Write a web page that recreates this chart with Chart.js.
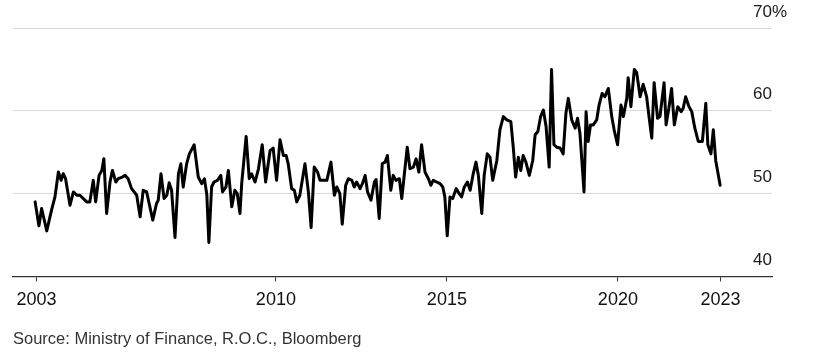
<!DOCTYPE html>
<html>
<head>
<meta charset="utf-8">
<script src="https://cdn.jsdelivr.net/npm/chart.js@4"></script>
<style>
  html, body { margin: 0; padding: 0; background: #ffffff; }
  #wrap { width: 813px; height: 358px; }
</style>
</head>
<body>
<div id="wrap"><canvas id="c" width="813" height="358"></canvas></div>
<script>
// Dates (decimal years) and values (%)
const dates = [
  2002.96,2003.07,2003.15,2003.30,2003.44,2003.54,2003.64,2003.72,2003.78,2003.85,2003.98,
  2004.08,2004.18,2004.27,2004.37,2004.47,2004.56,2004.66,2004.73,2004.83,2004.91,2004.97,
  2005.05,2005.15,2005.22,2005.32,2005.39,2005.51,2005.59,2005.68,2005.78,2005.93,
  2006.03,2006.12,2006.22,2006.40,2006.51,2006.56,2006.64,2006.73,2006.81,2006.88,2006.95,
  2007.05,2007.15,2007.22,2007.29,2007.39,2007.47,2007.61,2007.73,2007.83,2007.91,2007.98,
  2008.04,2008.12,2008.19,2008.29,2008.39,2008.44,2008.54,2008.61,2008.71,2008.80,2008.87,2008.95,
  2009.00,2009.13,2009.22,2009.29,2009.39,2009.49,2009.60,2009.70,2009.83,2009.92,
  2010.02,2010.12,2010.22,2010.30,2010.36,2010.46,2010.54,2010.61,2010.70,2010.85,2010.95,
  2011.03,2011.12,2011.22,2011.29,2011.49,2011.61,2011.71,2011.78,2011.87,2011.94,
  2012.04,2012.12,2012.22,2012.29,2012.36,2012.46,2012.53,2012.61,2012.68,2012.78,2012.88,2012.93,
  2013.02,2013.11,2013.19,2013.26,2013.36,2013.43,2013.51,2013.61,2013.68,2013.84,2013.92,
  2014.02,2014.10,2014.18,2014.26,2014.36,2014.46,2014.53,2014.60,2014.70,2014.80,2014.88,2014.94,
  2015.01,2015.09,2015.17,2015.27,2015.36,2015.43,2015.51,2015.60,2015.68,2015.77,2015.85,2015.92,
  2016.02,2016.09,2016.18,2016.26,2016.34,2016.46,2016.55,2016.65,2016.75,2016.87,2016.94,
  2017.01,2017.09,2017.16,2017.23,2017.31,2017.41,2017.51,2017.58,2017.66,2017.74,2017.82,2017.90,2017.99,
  2018.06,2018.13,2018.21,2018.31,2018.40,2018.48,2018.55,2018.65,2018.75,2018.82,2018.89,
  2019.01,2019.07,2019.13,2019.20,2019.28,2019.38,2019.45,2019.54,2019.62,2019.72,2019.82,2019.89,2019.99,
  2020.09,2020.16,2020.26,2020.30,2020.38,2020.48,2020.55,2020.65,2020.74,2020.84,2020.91,2020.99,
  2021.06,2021.16,2021.23,2021.35,2021.41,2021.49,2021.57,2021.65,2021.75,2021.85,2021.91,2021.98,
  2022.08,2022.16,2022.25,2022.35,2022.47,2022.57,2022.63,2022.72,2022.79,2022.86,2022.99
];
const values = [
  49.0,46.1,48.2,45.5,48.0,49.6,52.6,51.6,52.4,51.8,48.6,
  50.2,49.8,49.8,49.4,49.0,49.0,51.6,49.0,52.2,52.8,54.2,
  47.6,51.4,52.8,51.4,51.8,52.0,52.2,51.8,50.6,49.8,
  47.2,50.4,50.2,46.8,48.8,49.2,52.4,49.4,49.8,51.3,50.4,
  44.7,52.4,53.6,50.8,53.6,54.8,55.9,52.0,51.2,51.8,49.9,
  44.1,50.8,51.4,51.6,52.2,50.2,50.8,52.8,48.4,50.4,50.0,47.6,
  51.2,56.9,51.8,52.4,51.4,53.0,55.9,51.4,55.2,55.5,
  51.6,56.5,54.6,54.6,53.6,50.6,50.4,49.0,49.8,53.6,50.2,
  45.9,53.2,52.6,51.6,51.6,53.8,49.8,50.8,50.0,46.3,
  51.0,51.8,51.6,50.8,51.4,50.6,51.2,52.2,50.2,49.2,51.4,51.7,
  47.0,53.6,53.8,54.6,50.4,52.2,51.6,51.8,49.4,55.6,53.0,
  53.2,54.2,52.6,55.9,52.6,51.8,51.0,51.6,51.4,51.2,50.8,49.6,
  44.9,49.6,49.4,50.6,50.0,49.6,50.8,51.4,50.4,52.4,53.8,52.2,
  47.6,52.2,54.8,54.4,51.6,54.0,57.7,59.3,58.9,58.7,55.6,
  52.0,54.4,52.8,54.6,53.8,52.2,54.0,57.1,57.5,59.3,60.1,58.1,53.2,
  65.0,55.9,55.6,55.5,54.8,59.7,61.5,58.9,57.9,59.1,57.3,
  50.2,59.9,56.3,58.3,58.3,58.9,60.7,62.1,61.7,62.7,59.3,57.7,55.9,
  60.7,59.3,61.5,64.0,60.5,65.0,64.6,61.7,63.2,61.7,59.3,56.7,
  63.4,59.1,59.3,63.4,58.3,60.3,62.7,58.3,60.5,59.9,60.3,61.7,
  60.5,59.9,57.9,56.3,56.3,60.9,55.9,54.8,57.7,54.0,51.0
];
const xTickYears = [2003, 2010, 2015, 2020, 2023];
const yTickValues = [40, 50, 60, 70];
const sourceText = 'Source: Ministry of Finance, R.O.C., Bloomberg';

const points = dates.map((d, i) => ({ x: d, y: values[i] }));

const overlayPlugin = {
  id: 'overlay',
  afterDraw(chart) {
    const ctx = chart.ctx;
    const y = chart.scales.y;
    const area = chart.chartArea;
    ctx.save();
    ctx.font = '17px "Liberation Sans", Arial, sans-serif';
    ctx.fillStyle = '#1a1a1a';
    ctx.textBaseline = 'alphabetic';
    yTickValues.forEach(v => {
      const py = y.getPixelForValue(v);
      ctx.textAlign = 'right';
      ctx.fillText(String(v), area.right, py - 11.5);
      if (v === yTickValues[yTickValues.length - 1]) {
        ctx.textAlign = 'left';
        ctx.fillText('%', area.right, py - 11.5);
      }
    });
    ctx.font = '16.5px "Liberation Sans", Arial, sans-serif';
    ctx.fillStyle = '#333333';
    ctx.textAlign = 'left';
    ctx.fillText(sourceText, 13, 344);
    ctx.restore();
  }
};

new Chart(document.getElementById('c'), {
  type: 'line',
  data: {
    datasets: [{
      data: points,
      borderColor: '#000000',
      borderWidth: 3,
      pointRadius: 0,
      tension: 0,
      borderJoinStyle: 'round',
      borderCapStyle: 'round',
      fill: false
    }]
  },
  options: {
    responsive: false,
    animation: false,
    devicePixelRatio: 1,
    layout: { padding: { left: 13, right: 41, top: 28, bottom: 39 } },
    plugins: { legend: { display: false }, tooltip: { enabled: false } },
    scales: {
      x: {
        type: 'linear',
        min: 2002.313,
        max: 2024.506,
        afterBuildTicks(scale) { scale.ticks = xTickYears.map(v => ({ value: v })); },
        ticks: {
          autoSkip: false,
          maxRotation: 0,
          padding: 8,
          color: '#111111',
          font: { family: '"Liberation Sans", Arial, sans-serif', size: 18 },
          callback: v => String(v)
        },
        grid: { drawOnChartArea: false, drawTicks: true, tickLength: 5, color: '#333333', lineWidth: 1 },
        border: { display: true, color: '#333333', width: 1.3 }
      },
      y: {
        position: 'right',
        min: 40,
        max: 70,
        afterBuildTicks(scale) { scale.ticks = yTickValues.map(v => ({ value: v })); },
        ticks: { display: false },
        grid: { drawTicks: false, color: '#d9d9d9', lineWidth: 1 },
        border: { display: false }
      }
    }
  },
  plugins: [overlayPlugin]
});
</script>
</body>
</html>
